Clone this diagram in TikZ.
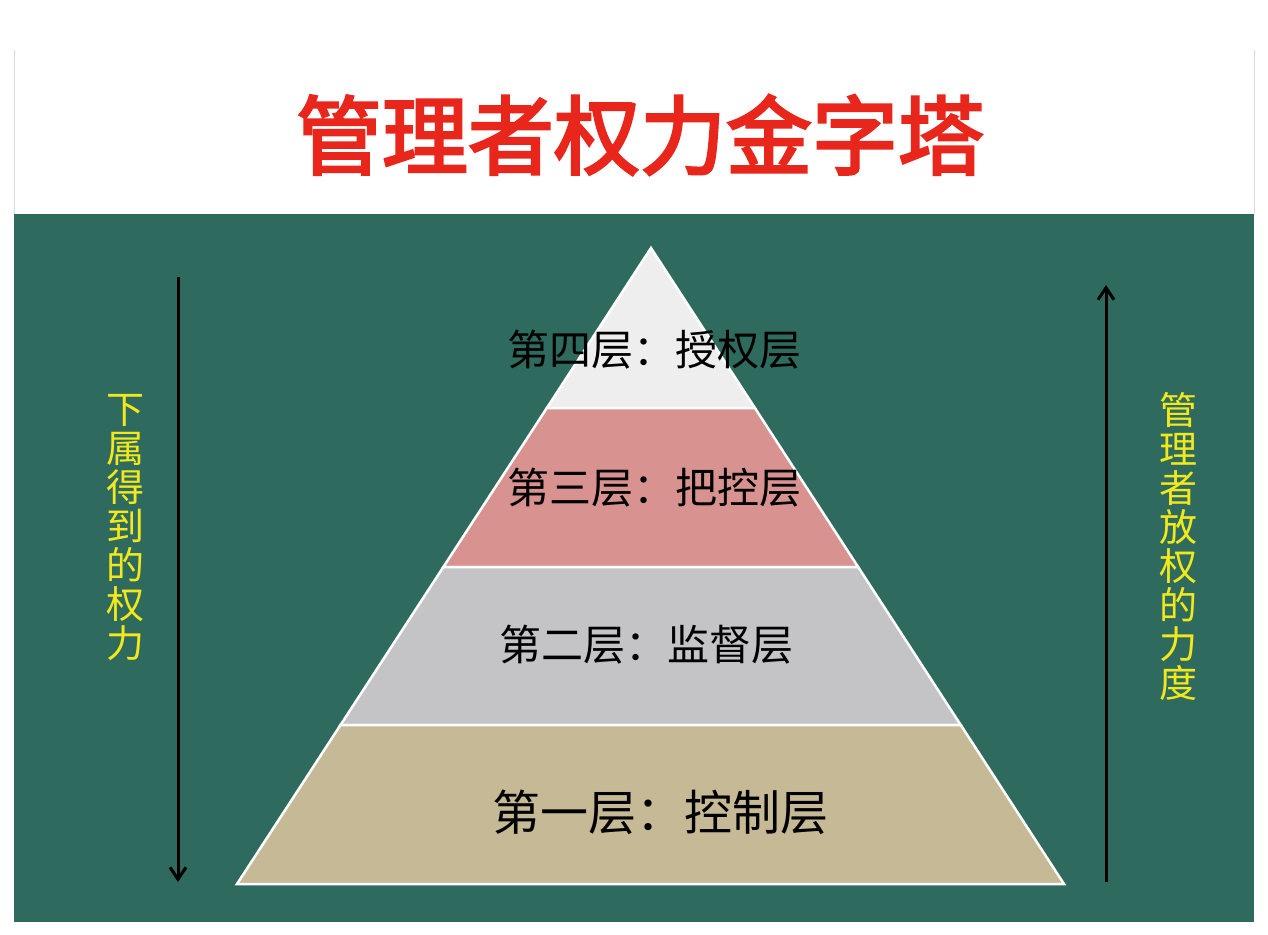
\documentclass[tikz,border=0pt]{standalone}
\usepackage{fontspec}
\newfontfamily\cjk{Noto Sans CJK SC}
\newfontfamily\cjkb[FakeBold=3]{Noto Sans CJK SC}
\usetikzlibrary{calc,arrows.meta}
\definecolor{bggreen}{HTML}{2E6B5E}
\definecolor{tred}{HTML}{E8261B}
\definecolor{ylw}{HTML}{F2E81C}
\definecolor{lay4}{HTML}{EEEEEE}
\definecolor{lay3}{HTML}{D89390}
\definecolor{lay2}{HTML}{C4C3C5}
\definecolor{lay1}{HTML}{C6B996}
\tikzset{
  layer/.style={draw=white,line width=2.5pt},
  lab/.style={font=\cjk\fontsize{42}{46}\selectfont,text=black},
  side/.style={font=\cjk\fontsize{38}{39}\selectfont,text=ylw,align=center},
  arr/.style={line width=3pt,-{Straight Barb[length=12pt,width=16pt]}}
}
\begin{document}
\begin{tikzpicture}[x=1pt,y=-1pt]
\useasboundingbox (0,0) rectangle (1268,934);
\fill[white] (0,0) rectangle (1268,934);
\draw[gray!30,line width=1pt] (14,50) -- (14,214) (1254,50) -- (1254,214);
\fill[bggreen] (14,214) rectangle (1254,922);
\node[font=\cjkb\fontsize{86}{90}\selectfont,text=tred] (title) at (640,135) {管理者权力金字塔};
\coordinate (A) at (651,248);
\coordinate (L) at (237,884);
\coordinate (R) at (1064,884);
\coordinate (l1) at ($(A)!0.2516!(L)$); \coordinate (r1) at ($(A)!0.2516!(R)$);
\coordinate (l2) at ($(A)!0.5016!(L)$); \coordinate (r2) at ($(A)!0.5016!(R)$);
\coordinate (l3) at ($(A)!0.75!(L)$); \coordinate (r3) at ($(A)!0.75!(R)$);
\filldraw[layer,fill=lay4] (A) -- (r1) -- (l1) -- cycle;
\filldraw[layer,fill=lay3] (l1) -- (r1) -- (r2) -- (l2) -- cycle;
\filldraw[layer,fill=lay2] (l2) -- (r2) -- (r3) -- (l3) -- cycle;
\filldraw[layer,fill=lay1] (l3) -- (r3) -- (R) -- (L) -- cycle;
\node[lab] (t4) at (654,350) {第四层：授权层};
\node[lab] (t3) at (654,488) {第三层：把控层};
\node[lab] (t2) at (646,645) {第二层：监督层};
\node[lab,font=\cjk\fontsize{48}{52}\selectfont] (t1) at (660,812) {第一层：控制层};
\node[side] (ls) at (125,528) {下\\属\\得\\到\\的\\权\\力};
\node[side] (rs) at (1178,546) {管\\理\\者\\放\\权\\的\\力\\度};
\coordinate (la) at (178,277); \coordinate (lb) at (178,882);
\coordinate (ra) at (1106,882); \coordinate (rb) at (1106,285);
\draw[arr] (la) -- (lb);
\draw[arr] (ra) -- (rb);
\end{tikzpicture}
\end{document}
